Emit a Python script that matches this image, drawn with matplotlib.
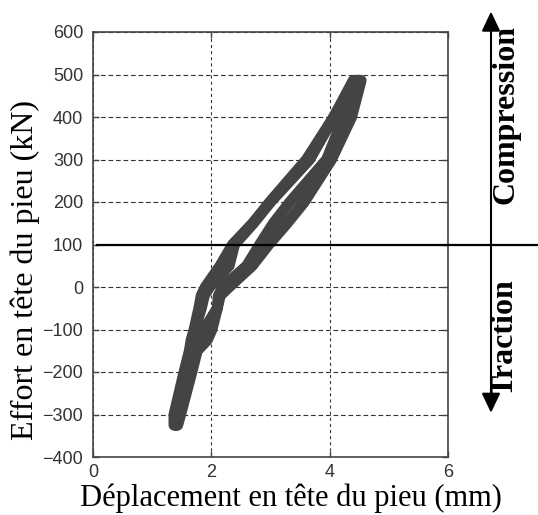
import matplotlib

matplotlib.use("Agg")
import matplotlib.pyplot as plt
from matplotlib.transforms import blended_transform_factory


# Force levels (kN) at which the four traced branches of the loop band were read
EFFORT_KN = [-325, -300, -200, -150, -125, -100, -50, -20, 0, 50, 100, 150, 200, 300, 400, 486]

# Displacement (mm) of each branch at those force levels
LEFT_OUTER_MM = [1.37, 1.37, 1.54, 1.63, 1.66, 1.71, 1.79, 1.83, 1.90, 2.15, 2.36, 2.70, 2.99, 3.61, 4.07, 4.40]
LEFT_INNER_MM = [1.39, 1.40, 1.55, 1.64, 1.67, 1.72, 1.83, 1.88, 1.97, 2.30, 2.39, 2.71, 3.00, 3.66, 4.07, 4.45]
RIGHT_INNER_MM = [1.41, 1.44, 1.65, 1.75, 1.80, 1.88, 2.10, 2.12, 2.20, 2.60, 2.82, 3.05, 3.33, 3.95, 4.24, 4.50]
RIGHT_OUTER_MM = [1.43, 1.48, 1.67, 1.76, 1.93, 2.01, 2.10, 2.15, 2.30, 2.69, 2.97, 3.28, 3.57, 4.03, 4.37, 4.53]

X_TICKS = [0, 2, 4, 6]
Y_TICKS = [-400, -300, -200, -100, 0, 100, 200, 300, 400, 500, 600]

REFERENCE_EFFORT_KN = 100
ARROW_TOP_KN = 648
ARROW_BOTTOM_KN = -296

BAND_COLOR = "#444444"
TEXT_COLOR = "#333333"
SERIF = "Liberation Serif"


def closed_loop(up_branch, down_branch):
    xs = list(up_branch) + list(reversed(down_branch))
    ys = list(EFFORT_KN) + list(reversed(EFFORT_KN))
    return xs, ys


def main():
    plt.rcParams["font.family"] = "Liberation Sans"
    plt.rcParams["lines.scale_dashes"] = False

    fig = plt.figure(figsize=(5.38, 5.15), dpi=100)
    ax = fig.add_axes([93 / 538, 58 / 515, 355 / 538, 425 / 515])

    for up, down in [(RIGHT_OUTER_MM, LEFT_OUTER_MM), (RIGHT_INNER_MM, LEFT_INNER_MM)]:
        xs, ys = closed_loop(up, down)
        ax.plot(xs, ys, color=BAND_COLOR, lw=8, solid_joinstyle="round",
                solid_capstyle="round", zorder=3)

    ax.set_xlim(0, 6)
    ax.set_ylim(-400, 600)
    ax.set_xticks(X_TICKS)
    ax.set_yticks(Y_TICKS)
    ax.xaxis.grid(True, linestyle=(0, (2.2, 2.2)), color="#333333", lw=0.8)
    ax.yaxis.grid(True, linestyle=(0, (3.4, 2.0)), color="#333333", lw=0.8)
    ax.set_axisbelow(True)
    ax.tick_params(direction="in", length=4, width=1, top=True, right=True,
                   colors="#444444", labelcolor=TEXT_COLOR, labelsize=13)
    ax.tick_params(axis="y", pad=7)
    ax.tick_params(axis="x", pad=5)
    for spine in ax.spines.values():
        spine.set_color("#444444")
        spine.set_linewidth(1.2)

    ax.set_xlabel("Déplacement en tête du pieu (mm)", family=SERIF, fontsize=22)
    ax.xaxis.set_label_coords(0.558, -0.062)
    ax.set_ylabel("Effort en tête du pieu (kN)", family=SERIF, fontsize=23)
    ax.yaxis.set_label_coords(-0.148, 0.44)

    # reference line at 100 kN, running past the axes to the right edge
    ax.axhline(REFERENCE_EFFORT_KN, xmin=0.01, xmax=(538 - 93) / 355, color="black",
               lw=1.6, clip_on=False, zorder=5)

    side = blended_transform_factory(ax.transAxes, ax.transData)
    arrow_x = (491 - 93) / 355
    ax.annotate("", xy=(arrow_x, ARROW_TOP_KN), xytext=(arrow_x, ARROW_BOTTOM_KN),
                xycoords=side, textcoords=side, annotation_clip=False,
                arrowprops=dict(arrowstyle="<|-|>,head_length=0.8,head_width=0.38",
                                mutation_scale=15, color="black", lw=1.5,
                                shrinkA=0, shrinkB=0))

    fig.text(491 / 538, 1 - 114 / 515, "Compression", rotation=90, ha="left", va="center",
             family=SERIF, fontweight="bold", fontsize=23, color="black")
    fig.text(491 / 538, 1 - 338 / 515, "Traction", rotation=90, ha="left", va="center",
             family=SERIF, fontweight="bold", fontsize=23, color="black")

    fig.savefig("out.png", dpi=100)
    plt.close(fig)


if __name__ == "__main__":
    main()
